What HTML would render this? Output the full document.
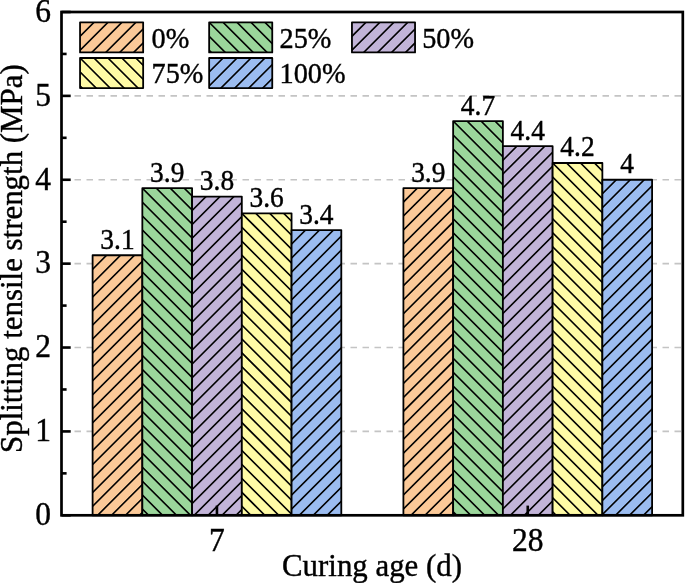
<!DOCTYPE html>
<html><head><meta charset="utf-8"><style>html,body{margin:0;padding:0;background:#fff;overflow:hidden}svg{display:block;will-change:transform}text{font-family:"Liberation Serif",serif;fill:#000;stroke:#000;stroke-width:0.4px}</style></head>
<body><svg width="685" height="583" viewBox="0 0 685 583" font-family="'Liberation Serif', serif">
<defs><clipPath id="c0"><rect x="92.60" y="255.26" width="49.74" height="260.04"/></clipPath><clipPath id="c1"><rect x="142.34" y="188.15" width="49.74" height="327.14"/></clipPath><clipPath id="c2"><rect x="192.08" y="196.54" width="49.74" height="318.76"/></clipPath><clipPath id="c3"><rect x="241.82" y="213.32" width="49.74" height="301.98"/></clipPath><clipPath id="c4"><rect x="291.56" y="230.10" width="49.74" height="285.20"/></clipPath><clipPath id="c5"><rect x="403.40" y="188.15" width="49.74" height="327.14"/></clipPath><clipPath id="c6"><rect x="453.14" y="121.05" width="49.74" height="394.25"/></clipPath><clipPath id="c7"><rect x="502.88" y="146.21" width="49.74" height="369.09"/></clipPath><clipPath id="c8"><rect x="552.62" y="162.99" width="49.74" height="352.31"/></clipPath><clipPath id="c9"><rect x="602.36" y="179.77" width="49.74" height="335.53"/></clipPath><clipPath id="c10"><rect x="80.05" y="22.35" width="63.10" height="30.10"/></clipPath><clipPath id="c11"><rect x="209.15" y="22.35" width="63.10" height="30.10"/></clipPath><clipPath id="c12"><rect x="351.95" y="22.35" width="63.10" height="30.10"/></clipPath><clipPath id="c13"><rect x="80.05" y="58.00" width="63.10" height="30.10"/></clipPath><clipPath id="c14"><rect x="209.15" y="58.00" width="63.10" height="30.10"/></clipPath></defs>
<rect width="685" height="583" fill="#fff"/>
<line x1="62.50" y1="431.42" x2="682.80" y2="431.42" stroke="#c4c4c4" stroke-width="1.6" stroke-dasharray="6.5 5.5"/>
<line x1="62.50" y1="347.53" x2="682.80" y2="347.53" stroke="#c4c4c4" stroke-width="1.6" stroke-dasharray="6.5 5.5"/>
<line x1="62.50" y1="263.65" x2="682.80" y2="263.65" stroke="#c4c4c4" stroke-width="1.6" stroke-dasharray="6.5 5.5"/>
<line x1="62.50" y1="179.77" x2="682.80" y2="179.77" stroke="#c4c4c4" stroke-width="1.6" stroke-dasharray="6.5 5.5"/>
<line x1="62.50" y1="95.88" x2="682.80" y2="95.88" stroke="#c4c4c4" stroke-width="1.6" stroke-dasharray="6.5 5.5"/>
<rect x="92.60" y="255.26" width="49.74" height="260.04" fill="#FBC998"/>
<path clip-path="url(#c0)" d="M87.60 260.26L147.34 200.52M87.60 274.21L147.34 214.47M87.60 288.16L147.34 228.42M87.60 302.11L147.34 242.37M87.60 316.06L147.34 256.32M87.60 330.01L147.34 270.27M87.60 343.96L147.34 284.22M87.60 357.91L147.34 298.17M87.60 371.86L147.34 312.12M87.60 385.81L147.34 326.07M87.60 399.76L147.34 340.02M87.60 413.71L147.34 353.97M87.60 427.66L147.34 367.92M87.60 441.61L147.34 381.87M87.60 455.56L147.34 395.82M87.60 469.51L147.34 409.77M87.60 483.46L147.34 423.72M87.60 497.41L147.34 437.67M87.60 511.36L147.34 451.62M87.60 525.31L147.34 465.57M87.60 539.26L147.34 479.52M87.60 553.21L147.34 493.47M87.60 567.16L147.34 507.42" stroke="#000" stroke-width="1.6" fill="none"/>
<rect x="92.60" y="255.26" width="49.74" height="260.04" fill="none" stroke="#000" stroke-width="1.8" stroke-linejoin="round"/>
<rect x="142.34" y="188.15" width="49.74" height="327.14" fill="#9BD69B"/>
<path clip-path="url(#c1)" d="M137.34 127.35L197.08 187.09M137.34 141.30L197.08 201.04M137.34 155.25L197.08 214.99M137.34 169.20L197.08 228.94M137.34 183.15L197.08 242.89M137.34 197.10L197.08 256.84M137.34 211.05L197.08 270.79M137.34 225.00L197.08 284.75M137.34 238.95L197.08 298.69M137.34 252.90L197.08 312.64M137.34 266.85L197.08 326.59M137.34 280.80L197.08 340.54M137.34 294.75L197.08 354.50M137.34 308.70L197.08 368.44M137.34 322.65L197.08 382.39M137.34 336.60L197.08 396.34M137.34 350.55L197.08 410.29M137.34 364.50L197.08 424.25M137.34 378.45L197.08 438.19M137.34 392.40L197.08 452.14M137.34 406.35L197.08 466.09M137.34 420.30L197.08 480.04M137.34 434.25L197.08 494.00M137.34 448.20L197.08 507.94M137.34 462.15L197.08 521.89M137.34 476.10L197.08 535.85M137.34 490.05L197.08 549.79M137.34 504.00L197.08 563.74M137.34 517.95L197.08 577.69" stroke="#000" stroke-width="1.6" fill="none"/>
<rect x="142.34" y="188.15" width="49.74" height="327.14" fill="none" stroke="#000" stroke-width="1.8" stroke-linejoin="round"/>
<rect x="192.08" y="196.54" width="49.74" height="318.76" fill="#C2B4D8"/>
<path clip-path="url(#c2)" d="M187.08 201.54L246.82 141.80M187.08 215.49L246.82 155.75M187.08 229.44L246.82 169.70M187.08 243.39L246.82 183.65M187.08 257.34L246.82 197.60M187.08 271.29L246.82 211.55M187.08 285.24L246.82 225.50M187.08 299.19L246.82 239.45M187.08 313.14L246.82 253.40M187.08 327.09L246.82 267.35M187.08 341.04L246.82 281.30M187.08 354.99L246.82 295.25M187.08 368.94L246.82 309.20M187.08 382.89L246.82 323.15M187.08 396.84L246.82 337.10M187.08 410.79L246.82 351.05M187.08 424.74L246.82 365.00M187.08 438.69L246.82 378.95M187.08 452.64L246.82 392.90M187.08 466.59L246.82 406.85M187.08 480.54L246.82 420.80M187.08 494.49L246.82 434.75M187.08 508.44L246.82 448.70M187.08 522.39L246.82 462.65M187.08 536.34L246.82 476.60M187.08 550.29L246.82 490.55M187.08 564.24L246.82 504.50" stroke="#000" stroke-width="1.6" fill="none"/>
<rect x="192.08" y="196.54" width="49.74" height="318.76" fill="none" stroke="#000" stroke-width="1.8" stroke-linejoin="round"/>
<rect x="241.82" y="213.32" width="49.74" height="301.98" fill="#FFFBA6"/>
<path clip-path="url(#c3)" d="M236.82 152.52L296.56 212.26M236.82 166.47L296.56 226.21M236.82 180.42L296.56 240.16M236.82 194.37L296.56 254.11M236.82 208.32L296.56 268.06M236.82 222.27L296.56 282.01M236.82 236.22L296.56 295.96M236.82 250.17L296.56 309.91M236.82 264.12L296.56 323.86M236.82 278.07L296.56 337.81M236.82 292.02L296.56 351.76M236.82 305.97L296.56 365.71M236.82 319.92L296.56 379.66M236.82 333.87L296.56 393.61M236.82 347.82L296.56 407.56M236.82 361.77L296.56 421.51M236.82 375.72L296.56 435.46M236.82 389.67L296.56 449.41M236.82 403.62L296.56 463.36M236.82 417.57L296.56 477.31M236.82 431.52L296.56 491.26M236.82 445.47L296.56 505.21M236.82 459.42L296.56 519.16M236.82 473.37L296.56 533.11M236.82 487.32L296.56 547.06M236.82 501.27L296.56 561.01M236.82 515.22L296.56 574.96" stroke="#000" stroke-width="1.6" fill="none"/>
<rect x="241.82" y="213.32" width="49.74" height="301.98" fill="none" stroke="#000" stroke-width="1.8" stroke-linejoin="round"/>
<rect x="291.56" y="230.10" width="49.74" height="285.20" fill="#9BBCF0"/>
<path clip-path="url(#c4)" d="M286.56 235.10L346.30 175.36M286.56 249.05L346.30 189.31M286.56 263.00L346.30 203.26M286.56 276.95L346.30 217.21M286.56 290.90L346.30 231.16M286.56 304.85L346.30 245.11M286.56 318.80L346.30 259.06M286.56 332.75L346.30 273.01M286.56 346.70L346.30 286.96M286.56 360.65L346.30 300.91M286.56 374.60L346.30 314.86M286.56 388.55L346.30 328.81M286.56 402.50L346.30 342.76M286.56 416.45L346.30 356.71M286.56 430.40L346.30 370.66M286.56 444.35L346.30 384.61M286.56 458.30L346.30 398.56M286.56 472.25L346.30 412.51M286.56 486.20L346.30 426.46M286.56 500.15L346.30 440.41M286.56 514.10L346.30 454.36M286.56 528.05L346.30 468.31M286.56 542.00L346.30 482.26M286.56 555.95L346.30 496.21M286.56 569.90L346.30 510.16" stroke="#000" stroke-width="1.6" fill="none"/>
<rect x="291.56" y="230.10" width="49.74" height="285.20" fill="none" stroke="#000" stroke-width="1.8" stroke-linejoin="round"/>
<rect x="403.40" y="188.15" width="49.74" height="327.14" fill="#FBC998"/>
<path clip-path="url(#c5)" d="M398.40 193.15L458.14 133.41M398.40 207.10L458.14 147.36M398.40 221.05L458.14 161.31M398.40 235.00L458.14 175.26M398.40 248.95L458.14 189.21M398.40 262.90L458.14 203.16M398.40 276.85L458.14 217.11M398.40 290.80L458.14 231.06M398.40 304.75L458.14 245.01M398.40 318.70L458.14 258.96M398.40 332.65L458.14 272.91M398.40 346.60L458.14 286.86M398.40 360.55L458.14 300.81M398.40 374.50L458.14 314.76M398.40 388.45L458.14 328.71M398.40 402.40L458.14 342.66M398.40 416.35L458.14 356.61M398.40 430.30L458.14 370.56M398.40 444.25L458.14 384.51M398.40 458.20L458.14 398.46M398.40 472.15L458.14 412.41M398.40 486.10L458.14 426.36M398.40 500.05L458.14 440.31M398.40 514.00L458.14 454.26M398.40 527.95L458.14 468.21M398.40 541.90L458.14 482.16M398.40 555.86L458.14 496.12M398.40 569.80L458.14 510.06" stroke="#000" stroke-width="1.6" fill="none"/>
<rect x="403.40" y="188.15" width="49.74" height="327.14" fill="none" stroke="#000" stroke-width="1.8" stroke-linejoin="round"/>
<rect x="453.14" y="121.05" width="49.74" height="394.25" fill="#9BD69B"/>
<path clip-path="url(#c6)" d="M448.14 60.25L507.88 119.99M448.14 74.20L507.88 133.94M448.14 88.15L507.88 147.89M448.14 102.10L507.88 161.84M448.14 116.05L507.88 175.79M448.14 130.00L507.88 189.74M448.14 143.95L507.88 203.69M448.14 157.90L507.88 217.64M448.14 171.85L507.88 231.59M448.14 185.80L507.88 245.54M448.14 199.75L507.88 259.49M448.14 213.70L507.88 273.44M448.14 227.65L507.88 287.39M448.14 241.60L507.88 301.34M448.14 255.55L507.88 315.29M448.14 269.50L507.88 329.24M448.14 283.45L507.88 343.19M448.14 297.40L507.88 357.14M448.14 311.35L507.88 371.09M448.14 325.30L507.88 385.04M448.14 339.25L507.88 398.99M448.14 353.20L507.88 412.94M448.14 367.15L507.88 426.89M448.14 381.10L507.88 440.84M448.14 395.05L507.88 454.79M448.14 409.00L507.88 468.74M448.14 422.95L507.88 482.69M448.14 436.90L507.88 496.64M448.14 450.85L507.88 510.59M448.14 464.80L507.88 524.54M448.14 478.75L507.88 538.49M448.14 492.70L507.88 552.44M448.14 506.65L507.88 566.39" stroke="#000" stroke-width="1.6" fill="none"/>
<rect x="453.14" y="121.05" width="49.74" height="394.25" fill="none" stroke="#000" stroke-width="1.8" stroke-linejoin="round"/>
<rect x="502.88" y="146.21" width="49.74" height="369.09" fill="#C2B4D8"/>
<path clip-path="url(#c7)" d="M497.88 151.21L557.62 91.47M497.88 165.16L557.62 105.42M497.88 179.11L557.62 119.37M497.88 193.06L557.62 133.32M497.88 207.01L557.62 147.27M497.88 220.96L557.62 161.22M497.88 234.91L557.62 175.17M497.88 248.86L557.62 189.12M497.88 262.81L557.62 203.07M497.88 276.76L557.62 217.02M497.88 290.71L557.62 230.97M497.88 304.66L557.62 244.92M497.88 318.61L557.62 258.87M497.88 332.56L557.62 272.82M497.88 346.51L557.62 286.77M497.88 360.46L557.62 300.72M497.88 374.41L557.62 314.67M497.88 388.36L557.62 328.62M497.88 402.31L557.62 342.57M497.88 416.26L557.62 356.52M497.88 430.21L557.62 370.47M497.88 444.16L557.62 384.42M497.88 458.11L557.62 398.37M497.88 472.06L557.62 412.32M497.88 486.01L557.62 426.27M497.88 499.96L557.62 440.22M497.88 513.91L557.62 454.17M497.88 527.86L557.62 468.12M497.88 541.81L557.62 482.07M497.88 555.76L557.62 496.02M497.88 569.71L557.62 509.97" stroke="#000" stroke-width="1.6" fill="none"/>
<rect x="502.88" y="146.21" width="49.74" height="369.09" fill="none" stroke="#000" stroke-width="1.8" stroke-linejoin="round"/>
<rect x="552.62" y="162.99" width="49.74" height="352.31" fill="#FFFBA6"/>
<path clip-path="url(#c8)" d="M547.62 102.19L607.36 161.93M547.62 116.14L607.36 175.88M547.62 130.09L607.36 189.83M547.62 144.04L607.36 203.78M547.62 157.99L607.36 217.73M547.62 171.94L607.36 231.68M547.62 185.89L607.36 245.63M547.62 199.84L607.36 259.58M547.62 213.79L607.36 273.53M547.62 227.74L607.36 287.48M547.62 241.69L607.36 301.43M547.62 255.64L607.36 315.38M547.62 269.59L607.36 329.33M547.62 283.54L607.36 343.28M547.62 297.49L607.36 357.23M547.62 311.44L607.36 371.18M547.62 325.39L607.36 385.13M547.62 339.34L607.36 399.08M547.62 353.29L607.36 413.03M547.62 367.24L607.36 426.98M547.62 381.19L607.36 440.93M547.62 395.14L607.36 454.88M547.62 409.09L607.36 468.83M547.62 423.04L607.36 482.78M547.62 436.99L607.36 496.73M547.62 450.94L607.36 510.68M547.62 464.89L607.36 524.63M547.62 478.84L607.36 538.58M547.62 492.79L607.36 552.53M547.62 506.74L607.36 566.48" stroke="#000" stroke-width="1.6" fill="none"/>
<rect x="552.62" y="162.99" width="49.74" height="352.31" fill="none" stroke="#000" stroke-width="1.8" stroke-linejoin="round"/>
<rect x="602.36" y="179.77" width="49.74" height="335.53" fill="#9BBCF0"/>
<path clip-path="url(#c9)" d="M597.36 184.77L657.10 125.03M597.36 198.72L657.10 138.98M597.36 212.67L657.10 152.93M597.36 226.62L657.10 166.88M597.36 240.57L657.10 180.83M597.36 254.52L657.10 194.78M597.36 268.47L657.10 208.73M597.36 282.42L657.10 222.68M597.36 296.37L657.10 236.63M597.36 310.32L657.10 250.58M597.36 324.27L657.10 264.53M597.36 338.22L657.10 278.48M597.36 352.17L657.10 292.43M597.36 366.12L657.10 306.38M597.36 380.07L657.10 320.33M597.36 394.02L657.10 334.28M597.36 407.97L657.10 348.23M597.36 421.92L657.10 362.18M597.36 435.87L657.10 376.13M597.36 449.82L657.10 390.08M597.36 463.77L657.10 404.03M597.36 477.72L657.10 417.98M597.36 491.67L657.10 431.93M597.36 505.62L657.10 445.88M597.36 519.57L657.10 459.83M597.36 533.52L657.10 473.78M597.36 547.47L657.10 487.73M597.36 561.42L657.10 501.68M597.36 575.37L657.10 515.63" stroke="#000" stroke-width="1.6" fill="none"/>
<rect x="602.36" y="179.77" width="49.74" height="335.53" fill="none" stroke="#000" stroke-width="1.8" stroke-linejoin="round"/>
<text transform="translate(117.47 248.76) scale(0.98 1.08)" font-size="28" text-anchor="middle">3.1</text>
<text transform="translate(167.21 181.65) scale(0.98 1.08)" font-size="28" text-anchor="middle">3.9</text>
<text transform="translate(216.95 190.04) scale(0.98 1.08)" font-size="28" text-anchor="middle">3.8</text>
<text transform="translate(266.69 206.82) scale(0.98 1.08)" font-size="28" text-anchor="middle">3.6</text>
<text transform="translate(316.43 223.60) scale(0.98 1.08)" font-size="28" text-anchor="middle">3.4</text>
<text transform="translate(428.27 181.65) scale(0.98 1.08)" font-size="28" text-anchor="middle">3.9</text>
<text transform="translate(478.01 114.55) scale(0.98 1.08)" font-size="28" text-anchor="middle">4.7</text>
<text transform="translate(527.75 139.71) scale(0.98 1.08)" font-size="28" text-anchor="middle">4.4</text>
<text transform="translate(577.49 156.49) scale(0.98 1.08)" font-size="28" text-anchor="middle">4.2</text>
<text transform="translate(627.23 173.27) scale(0.98 1.08)" font-size="28" text-anchor="middle">4</text>
<rect x="61.5" y="12.0" width="621.30" height="503.30" fill="none" stroke="#000" stroke-width="2.7"/>
<line x1="61.50" y1="515.30" x2="70.7" y2="515.30" stroke="#000" stroke-width="2.6"/>
<line x1="61.50" y1="431.42" x2="70.7" y2="431.42" stroke="#000" stroke-width="2.6"/>
<line x1="61.50" y1="347.53" x2="70.7" y2="347.53" stroke="#000" stroke-width="2.6"/>
<line x1="61.50" y1="263.65" x2="70.7" y2="263.65" stroke="#000" stroke-width="2.6"/>
<line x1="61.50" y1="179.77" x2="70.7" y2="179.77" stroke="#000" stroke-width="2.6"/>
<line x1="61.50" y1="95.88" x2="70.7" y2="95.88" stroke="#000" stroke-width="2.6"/>
<line x1="61.50" y1="12.00" x2="70.7" y2="12.00" stroke="#000" stroke-width="2.6"/>
<line x1="61.50" y1="473.36" x2="66.6" y2="473.36" stroke="#000" stroke-width="2.6"/>
<line x1="61.50" y1="389.47" x2="66.6" y2="389.47" stroke="#000" stroke-width="2.6"/>
<line x1="61.50" y1="305.59" x2="66.6" y2="305.59" stroke="#000" stroke-width="2.6"/>
<line x1="61.50" y1="221.71" x2="66.6" y2="221.71" stroke="#000" stroke-width="2.6"/>
<line x1="61.50" y1="137.82" x2="66.6" y2="137.82" stroke="#000" stroke-width="2.6"/>
<line x1="61.50" y1="53.94" x2="66.6" y2="53.94" stroke="#000" stroke-width="2.6"/>
<line x1="216.95" y1="515.30" x2="216.95" y2="505.6" stroke="#000" stroke-width="2.6"/>
<line x1="527.75" y1="515.30" x2="527.75" y2="505.6" stroke="#000" stroke-width="2.6"/>
<text transform="translate(51.10 525.10) scale(1.0 1.04)" font-size="31.5" text-anchor="end">0</text>
<text transform="translate(51.10 441.22) scale(1.0 1.04)" font-size="31.5" text-anchor="end">1</text>
<text transform="translate(51.10 357.33) scale(1.0 1.04)" font-size="31.5" text-anchor="end">2</text>
<text transform="translate(51.10 273.45) scale(1.0 1.04)" font-size="31.5" text-anchor="end">3</text>
<text transform="translate(51.10 189.57) scale(1.0 1.04)" font-size="31.5" text-anchor="end">4</text>
<text transform="translate(51.10 105.68) scale(1.0 1.04)" font-size="31.5" text-anchor="end">5</text>
<text transform="translate(51.10 21.80) scale(1.0 1.04)" font-size="31.5" text-anchor="end">6</text>
<text transform="translate(216.95 550.70) scale(1.0 1.04)" font-size="31.5" text-anchor="middle">7</text>
<text transform="translate(527.75 550.70) scale(1.0 1.04)" font-size="31.5" text-anchor="middle">28</text>
<text transform="translate(372.00 576.20) scale(1.0 1.02)" font-size="30.87" text-anchor="middle">Curing age (d)</text>
<text transform="translate(22.3 258.6) rotate(-90) scale(1 1.013)" font-size="30.9" text-anchor="middle">Splitting tensile strength (MPa)</text>
<rect x="80.05" y="22.35" width="63.10" height="30.10" fill="#FBC998"/>
<path clip-path="url(#c10)" d="M75.05 27.35L148.15 -45.75M75.05 41.30L148.15 -31.80M75.05 55.25L148.15 -17.85M75.05 69.20L148.15 -3.90M75.05 83.15L148.15 10.05M75.05 97.10L148.15 24.00M75.05 111.05L148.15 37.95M75.05 125.00L148.15 51.90" stroke="#000" stroke-width="1.6" fill="none"/>
<rect x="80.05" y="22.35" width="63.10" height="30.10" fill="none" stroke="#000" stroke-width="1.8" stroke-linejoin="round"/>
<text transform="translate(151.50 47.70) scale(1.0 1.055)" font-size="28.3" text-anchor="start">0%</text>
<rect x="209.15" y="22.35" width="63.10" height="30.10" fill="#9BD69B"/>
<path clip-path="url(#c11)" d="M204.15 -52.40L277.25 20.70M204.15 -38.45L277.25 34.65M204.15 -24.50L277.25 48.60M204.15 -10.55L277.25 62.55M204.15 3.40L277.25 76.50M204.15 17.35L277.25 90.45M204.15 31.30L277.25 104.40M204.15 45.25L277.25 118.35" stroke="#000" stroke-width="1.6" fill="none"/>
<rect x="209.15" y="22.35" width="63.10" height="30.10" fill="none" stroke="#000" stroke-width="1.8" stroke-linejoin="round"/>
<text transform="translate(279.50 47.90) scale(1.0 1.055)" font-size="28.3" text-anchor="start">25%</text>
<rect x="351.95" y="22.35" width="63.10" height="30.10" fill="#C2B4D8"/>
<path clip-path="url(#c12)" d="M346.95 27.35L420.05 -45.75M346.95 41.30L420.05 -31.80M346.95 55.25L420.05 -17.85M346.95 69.20L420.05 -3.90M346.95 83.15L420.05 10.05M346.95 97.10L420.05 24.00M346.95 111.05L420.05 37.95M346.95 125.00L420.05 51.90" stroke="#000" stroke-width="1.6" fill="none"/>
<rect x="351.95" y="22.35" width="63.10" height="30.10" fill="none" stroke="#000" stroke-width="1.8" stroke-linejoin="round"/>
<text transform="translate(422.20 47.90) scale(1.0 1.055)" font-size="28.3" text-anchor="start">50%</text>
<rect x="80.05" y="58.00" width="63.10" height="30.10" fill="#FFFBA6"/>
<path clip-path="url(#c13)" d="M75.05 -16.75L148.15 56.35M75.05 -2.80L148.15 70.30M75.05 11.15L148.15 84.25M75.05 25.10L148.15 98.20M75.05 39.05L148.15 112.15M75.05 53.00L148.15 126.10M75.05 66.95L148.15 140.05M75.05 80.90L148.15 154.00" stroke="#000" stroke-width="1.6" fill="none"/>
<rect x="80.05" y="58.00" width="63.10" height="30.10" fill="none" stroke="#000" stroke-width="1.8" stroke-linejoin="round"/>
<text transform="translate(151.50 82.90) scale(1.0 1.055)" font-size="28.3" text-anchor="start">75%</text>
<rect x="209.15" y="58.00" width="63.10" height="30.10" fill="#9BBCF0"/>
<path clip-path="url(#c14)" d="M204.15 63.00L277.25 -10.10M204.15 76.95L277.25 3.85M204.15 90.90L277.25 17.80M204.15 104.85L277.25 31.75M204.15 118.80L277.25 45.70M204.15 132.75L277.25 59.65M204.15 146.70L277.25 73.60M204.15 160.65L277.25 87.55" stroke="#000" stroke-width="1.6" fill="none"/>
<rect x="209.15" y="58.00" width="63.10" height="30.10" fill="none" stroke="#000" stroke-width="1.8" stroke-linejoin="round"/>
<text transform="translate(279.50 82.90) scale(1.0 1.055)" font-size="28.3" text-anchor="start">100%</text>
</svg></body></html>
